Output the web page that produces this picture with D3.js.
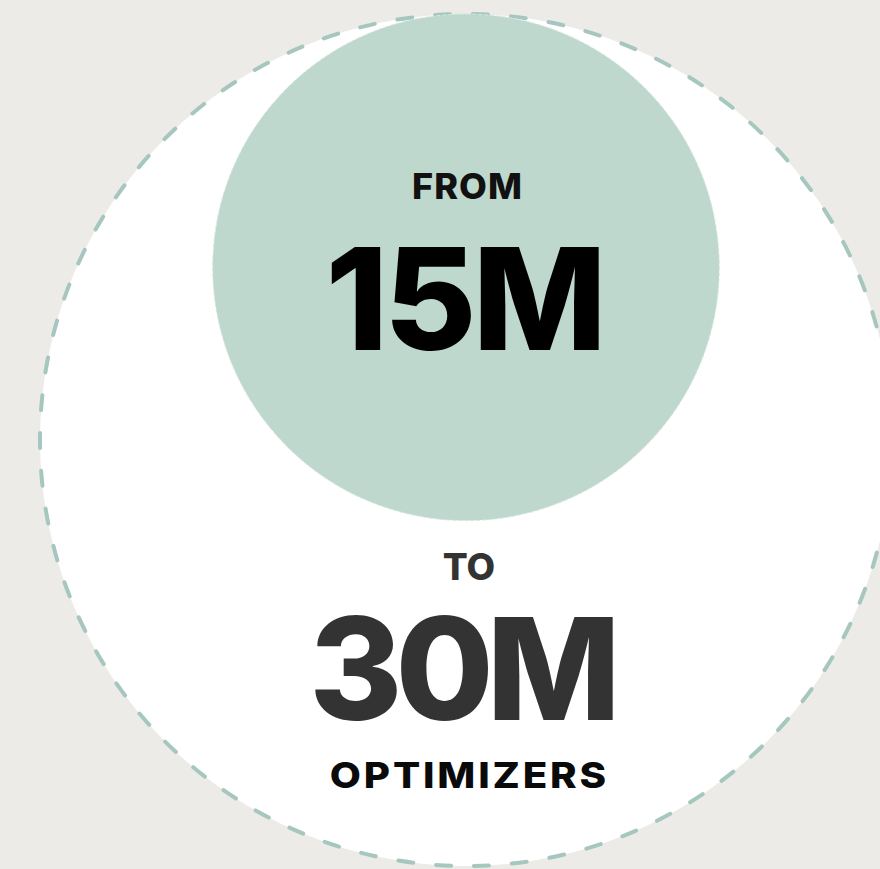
<!DOCTYPE html>
<html>
<head>
<meta charset="utf-8">
<script src="https://cdn.jsdelivr.net/npm/d3@7"></script>
<style>
  html, body { margin: 0; padding: 0; background: #edebe7; }
  svg { display: block; }
  text { font-family: Inter, "Open Sans", Lato, sans-serif; text-anchor: middle; }
</style>
</head>
<body>
<script>
// Optimizer counts, in millions
const periods = ["FROM", "TO"];
const counts = [15, 30];
const valueLabels = ["15M", "30M"];
const unitLabel = "OPTIMIZERS";

const W = 880, H = 869;
const cx = 466, topY = 14;

const svg = d3.select("body").append("svg")
  .attr("width", W).attr("height", H);

svg.append("rect").attr("width", W).attr("height", H).attr("fill", "#edebe7");

// circle radius grows with the count
const r = d3.scalePow().exponent(0.75)
  .domain([0, d3.max(counts)])
  .range([0, 426]);

const data = counts.map((v, i) => ({ period: periods[i], value: v, label: valueLabels[i] }))
  .sort((a, b) => b.value - a.value);

// circles hang from a common top point, biggest drawn first
svg.selectAll("circle.bubble")
  .data(data)
  .join("circle")
  .attr("class", "bubble")
  .attr("cx", cx)
  .attr("cy", d => topY + r(d.value))
  .attr("r", d => r(d.value))
  .attr("fill", (d, i) => i === 0 ? "#ffffff" : "#bfd8ce")
  .attr("stroke", (d, i) => i === 0 ? "#a6c7bf" : "#d6e6e0")
  .attr("stroke-width", (d, i) => i === 0 ? 4 : 1)
  .attr("stroke-linecap", "round")
  .attr("stroke-dasharray", (d, i) => i === 0 ? "15 23" : "3 3");

const small = data[1], big = data[0];

// helper: centred text, optionally widened; trailing letter-spacing is offset
function label(x, y, size, ls, sx, fill, str) {
  return svg.append("text")
    .attr("transform", `translate(${x + ls * sx / 2},${y}) scale(${sx},1)`)
    .attr("font-size", size).attr("font-weight", 800)
    .attr("letter-spacing", ls)
    .attr("fill", fill)
    .text(str);
}

// labels for the smaller value
label(cx + 1, 199, 35, 1, 1.03, "#111", small.period);
label(cx, 350, 142, -4, 1, "#000", small.label);

// labels for the larger value
label(cx + 3, 580, 37, 0, 1, "#333", big.period);
label(cx - 1, 720, 142, -7, 1, "#333", big.label);
label(cx + 2, 788, 36, 2.5, 1.12, "#0a0a0a", unitLabel);
</script>
</body>
</html>
